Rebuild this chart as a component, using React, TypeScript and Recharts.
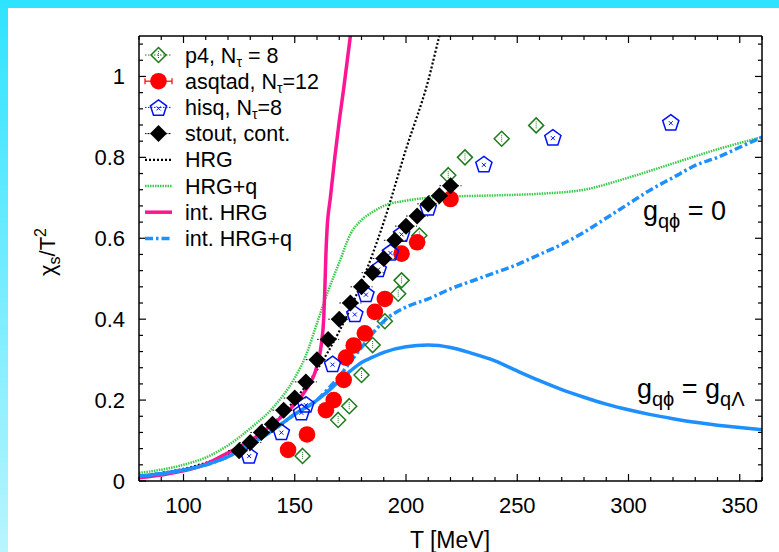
import React from "react";
import { ComposedChart, Line, Scatter, XAxis, YAxis, ReferenceDot } from "recharts";

const FONT = '"Liberation Sans", Arial, Helvetica, sans-serif';

// axis ticks
const X_TICKS = [80, 90, 100, 110, 120, 130, 140, 150, 160, 170, 180, 190, 200, 210, 220, 230, 240, 250, 260, 270, 280, 290, 300, 310, 320, 330, 340, 350, 360];
const X_MAJOR = [100, 150, 200, 250, 300, 350];
const Y_TICKS = [0, 0.04, 0.08, 0.12, 0.16, 0.2, 0.24, 0.28, 0.32, 0.36, 0.4, 0.44, 0.48, 0.52, 0.56, 0.6, 0.64, 0.68, 0.72, 0.76, 0.8, 0.84, 0.88, 0.92, 0.96, 1, 1.04, 1.08];
const Y_MAJOR = [0, 0.2, 0.4, 0.6, 0.8, 1];
const Y_LABELS = ["0", "0.2", "0.4", "0.6", "0.8", "1"];

// lattice data
const p4T = [153.5, 169.5, 174.5, 180, 185, 190.5, 196.5, 198, 206, 219, 226.5, 243, 258.5];
const p4V = [0.062, 0.151, 0.185, 0.262, 0.336, 0.395, 0.463, 0.496, 0.607, 0.756, 0.8, 0.846, 0.879];
const asqtadT = [147, 155.5, 164, 167.5, 172, 173, 176.5, 181.5, 186, 190.5, 198, 205, 220];
const asqtadV = [0.077, 0.115, 0.175, 0.2, 0.25, 0.305, 0.335, 0.365, 0.418, 0.45, 0.562, 0.59, 0.697];
const hisqT = [129.5, 144, 153, 155, 167, 177, 182, 187.5, 193, 198, 210, 235, 266, 319];
const hisqV = [0.064, 0.122, 0.171, 0.19, 0.29, 0.414, 0.463, 0.525, 0.566, 0.612, 0.677, 0.784, 0.85, 0.887];
const stoutT = [125, 130, 135, 140, 145, 150, 155, 160, 165, 170, 175, 180, 185, 190, 195, 200, 205, 210, 215, 220];
const stoutV = [0.075, 0.095, 0.12, 0.14, 0.175, 0.205, 0.245, 0.3, 0.35, 0.4, 0.44, 0.48, 0.515, 0.55, 0.595, 0.63, 0.655, 0.685, 0.705, 0.73];

// model curves
const hrgT = [80, 90, 100, 110, 120, 130, 140, 150, 160, 170, 180, 190, 200, 210, 215, 218];
const hrgV = [0.012, 0.02, 0.03, 0.045, 0.065, 0.095, 0.14, 0.2, 0.275, 0.37, 0.49, 0.64, 0.82, 0.99, 1.1, 1.16];
const hrgqT = [80, 90, 100, 110, 120, 130, 140, 150, 155, 160, 165, 170, 175, 180, 185, 190, 200, 210, 220, 240, 260, 280, 300, 320, 340, 360];
const hrgqV = [0.02, 0.028, 0.04, 0.058, 0.088, 0.13, 0.18, 0.255, 0.31, 0.39, 0.47, 0.54, 0.61, 0.645, 0.665, 0.68, 0.693, 0.7, 0.703, 0.706, 0.71, 0.72, 0.75, 0.785, 0.82, 0.85];
const intHrgT = [80, 90, 100, 110, 120, 130, 140, 150, 155, 160, 162, 163, 163.5, 164, 164.5, 166, 168, 170, 172, 175, 177];
const intHrgV = [0.008, 0.015, 0.025, 0.042, 0.07, 0.1, 0.14, 0.19, 0.225, 0.285, 0.34, 0.4, 0.47, 0.56, 0.62, 0.7, 0.8, 0.89, 0.97, 1.1, 1.18];
const intHrgqT = [80, 90, 100, 110, 120, 130, 140, 150, 160, 165, 170, 175, 180, 185, 190, 200, 210, 220, 230, 240, 250, 260, 270, 280, 290, 300, 310, 320, 330, 340, 350, 360];
const intHrgqLambda = [0.012, 0.018, 0.027, 0.04, 0.06, 0.09, 0.125, 0.165, 0.2, 0.222, 0.248, 0.272, 0.293, 0.306, 0.318, 0.332, 0.336, 0.33, 0.315, 0.297, 0.272, 0.248, 0.226, 0.207, 0.19, 0.176, 0.164, 0.154, 0.145, 0.138, 0.132, 0.127];
const intHrgqZero = [0.012, 0.018, 0.027, 0.04, 0.06, 0.09, 0.125, 0.165, 0.2, 0.228, 0.258, 0.295, 0.33, 0.365, 0.395, 0.43, 0.45, 0.475, 0.495, 0.515, 0.535, 0.56, 0.585, 0.615, 0.65, 0.685, 0.72, 0.75, 0.78, 0.8, 0.825, 0.85];

// annotation anchors (data coords)
const ANNOT_ZERO = { T: 306.5, v: 0.644 };
const ANNOT_LAMBDA = { T: 303.8, v: 0.205 };

const toPts = (t: number[], v: number[]) => t.map((T, i) => ({ T, v: v[i] }));

const GREEN_DARK = "#1d7b1d";
const PINK = "#ff1493";
const BLUE = "#1e8fff";
const GREEN = "#38c84a";

function OpenDiamond({ cx, cy }: { cx: number; cy: number }) {
    const r = 7.5;
    return (
        <g>
            <line x1={cx} x2={cx} y1={cy - 4} y2={cy + 4} stroke={GREEN_DARK} strokeWidth={1} strokeDasharray="1 1" />
            <polygon points={`${cx},${cy - r} ${cx + r},${cy} ${cx},${cy + r} ${cx - r},${cy}`} fill="none" stroke={GREEN_DARK} strokeWidth={1.5} />
        </g>
    );
}

function FilledDiamond({ cx, cy }: { cx: number; cy: number }) {
    const r = 8.5;
    return (
        <g>
            <line x1={cx - 11} x2={cx + 11} y1={cy} y2={cy} stroke="#000" strokeWidth={1} strokeDasharray="1.5 1.5" />
            <polygon points={`${cx},${cy - r} ${cx + r},${cy} ${cx},${cy + r} ${cx - r},${cy}`} fill="#000" />
        </g>
    );
}

function Pentagon({ cx, cy }: { cx: number; cy: number }) {
    const r = 8.5;
    const pts = [0, 1, 2, 3, 4]
        .map((k) => {
            const a = -Math.PI / 2 + (k * 2 * Math.PI) / 5;
            return `${cx + r * Math.cos(a)},${cy + 1 + r * Math.sin(a)}`;
        })
        .join(" ");
    return (
        <g>
            <polygon points={pts} fill="#fff" fillOpacity={0} stroke="#0010ff" strokeWidth={1.5} />
            <line x1={cx - 2} x2={cx + 2} y1={cy - 1} y2={cy + 3} stroke="#0010ff" strokeWidth={1} />
            <line x1={cx - 2} x2={cx + 2} y1={cy + 3} y2={cy - 1} stroke="#0010ff" strokeWidth={1} />
        </g>
    );
}

function RedCircle({ cx, cy }: { cx: number; cy: number }) {
    return <circle cx={cx} cy={cy} r={8.3} fill="#ff0000" />;
}

function BottomTick(props: any) {
    const { x, y, payload } = props;
    const major = X_MAJOR.includes(payload.value);
    return (
        <g>
            <line x1={x} x2={x} y1={y} y2={y - (major ? 7 : 4)} stroke="#000" strokeWidth={1.2} />
            {major && (
                <text x={x} y={y + 32} textAnchor="middle" fontSize={22} fontFamily={FONT} fill="#000">
                    {payload.value}
                </text>
            )}
        </g>
    );
}

function TopTick(props: any) {
    const { x, y, payload } = props;
    const major = X_MAJOR.includes(payload.value);
    return <line x1={x} x2={x} y1={y} y2={y + (major ? 7 : 4)} stroke="#000" strokeWidth={1.2} />;
}

function LeftTick(props: any) {
    const { x, y, payload } = props;
    const idx = Y_MAJOR.findIndex((m) => Math.abs(m - payload.value) < 1e-6);
    const major = idx >= 0;
    return (
        <g>
            <line x1={x} x2={x + (major ? 7 : 4)} y1={y} y2={y} stroke="#000" strokeWidth={1.2} />
            {major && (
                <text x={x - 14} y={y + 8} textAnchor="end" fontSize={22} fontFamily={FONT} fill="#000">
                    {Y_LABELS[idx]}
                </text>
            )}
        </g>
    );
}

function RightTick(props: any) {
    const { x, y, payload } = props;
    const major = Y_MAJOR.some((m) => Math.abs(m - payload.value) < 1e-6);
    return <line x1={x} x2={x - (major ? 7 : 4)} y1={y} y2={y} stroke="#000" strokeWidth={1.2} />;
}

function GLabel({ cx, cy, second }: { cx: number; cy: number; second: boolean }) {
    return (
        <text x={cx} y={cy} fontSize={27} fontFamily={FONT} fill="#000">
            g
            <tspan dy={8} fontSize={20}>qϕ</tspan>
            {second ? (
                <>
                    <tspan dy={-8}> = g</tspan>
                    <tspan dy={8} fontSize={20}>qΛ</tspan>
                </>
            ) : (
                <tspan dy={-8}> = 0</tspan>
            )}
        </text>
    );
}

const LEGEND = [
    { kind: "p4", label: ["p4, N", "τ", " = 8"] },
    { kind: "asqtad", label: ["asqtad, N", "τ", "=12"] },
    { kind: "hisq", label: ["hisq, N", "τ", "=8"] },
    { kind: "stout", label: ["stout, cont."] },
    { kind: "hrg", label: ["HRG"] },
    { kind: "hrgq", label: ["HRG+q"] },
    { kind: "inthrg", label: ["int. HRG"] },
    { kind: "inthrgq", label: ["int. HRG+q"] },
];

function LegendSample({ kind, y }: { kind: string; y: number }) {
    const x1 = 145;
    const x2 = 172;
    const cx = (x1 + x2) / 2;
    switch (kind) {
        case "p4":
            return (
                <g>
                    <line x1={x1} x2={x2} y1={y} y2={y} stroke={GREEN_DARK} strokeWidth={1} strokeDasharray="1.5 1.5" />
                    <OpenDiamond cx={cx} cy={y} />
                </g>
            );
        case "asqtad":
            return (
                <g>
                    <line x1={x1} x2={x2} y1={y} y2={y} stroke="#ff0000" strokeWidth={1.2} />
                    <line x1={x1} x2={x1} y1={y - 3} y2={y + 3} stroke="#ff0000" strokeWidth={1.2} />
                    <line x1={x2} x2={x2} y1={y - 3} y2={y + 3} stroke="#ff0000" strokeWidth={1.2} />
                    <RedCircle cx={cx} cy={y} />
                </g>
            );
        case "hisq":
            return (
                <g>
                    <line x1={x1} x2={x2} y1={y} y2={y} stroke="#0010ff" strokeWidth={1} strokeDasharray="1.5 1.5" />
                    <Pentagon cx={cx} cy={y} />
                </g>
            );
        case "stout":
            return (
                <g>
                    <line x1={x1} x2={x2} y1={y} y2={y} stroke="#000" strokeWidth={1} strokeDasharray="1.5 1.5" />
                    <FilledDiamond cx={cx} cy={y} />
                </g>
            );
        case "hrg":
            return <line x1={x1} x2={x2} y1={y} y2={y} stroke="#000" strokeWidth={2.2} strokeDasharray="2 2" />;
        case "hrgq":
            return <line x1={x1} x2={x2} y1={y} y2={y} stroke={GREEN} strokeWidth={2.5} strokeDasharray="1.5 1" />;
        case "inthrg":
            return <line x1={x1} x2={x2} y1={y} y2={y} stroke={PINK} strokeWidth={3.5} />;
        default:
            return <line x1={x1} x2={x2} y1={y} y2={y} stroke={BLUE} strokeWidth={3.5} strokeDasharray="8 3 2.5 3" />;
    }
}

export default function App() {
    return (
        <div style={{ position: "absolute", left: 0, top: 0, width: 779, height: 552, background: "#fff", overflow: "hidden", fontFamily: FONT }}>
            <div style={{ position: "absolute", left: 0, top: 0, width: 779, height: 8, background: "#2ee3ff" }} />
            <div style={{ position: "absolute", left: 0, top: 0, width: 8, height: 552, background: "linear-gradient(#2ee3ff, #b8f5ff)" }} />

            <div style={{ position: "absolute", left: 0, top: 0 }}>
                <ComposedChart width={779} height={552} margin={{ top: 35, right: 16, bottom: 41, left: 79 }}>
                    <XAxis dataKey="T" type="number" domain={[80, 360]} ticks={X_TICKS} interval={0} allowDataOverflow
                        height={30} tickSize={0} tickMargin={0} tick={<BottomTick />} tickLine={false}
                        axisLine={{ stroke: "#000", strokeWidth: 1.5 }} />
                    <XAxis xAxisId="top" orientation="top" dataKey="T" type="number" domain={[80, 360]} ticks={X_TICKS} interval={0} allowDataOverflow
                        height={1} tickSize={0} tickMargin={0} tick={<TopTick />} tickLine={false}
                        axisLine={{ stroke: "#000", strokeWidth: 1.5 }} />
                    <YAxis type="number" domain={[0, 1.1]} ticks={Y_TICKS} interval={0} allowDataOverflow
                        width={60} tickSize={0} tickMargin={0} tick={<LeftTick />} tickLine={false}
                        axisLine={{ stroke: "#000", strokeWidth: 1.5 }} />
                    <YAxis yAxisId="right" orientation="right" type="number" domain={[0, 1.1]} ticks={Y_TICKS} interval={0} allowDataOverflow
                        width={1} tickSize={0} tickMargin={0} tick={<RightTick />} tickLine={false}
                        axisLine={{ stroke: "#000", strokeWidth: 1.5 }} />

                    <Scatter data={toPts(p4T, p4V)} dataKey="v" isAnimationActive={false} shape={(p: any) => <OpenDiamond cx={p.cx} cy={p.cy} />} />
                    <Scatter data={toPts(asqtadT, asqtadV)} dataKey="v" isAnimationActive={false} shape={(p: any) => <RedCircle cx={p.cx} cy={p.cy} />} />
                    <Scatter data={toPts(hisqT, hisqV)} dataKey="v" isAnimationActive={false} shape={(p: any) => <Pentagon cx={p.cx} cy={p.cy} />} />
                    <Scatter data={toPts(stoutT, stoutV)} dataKey="v" isAnimationActive={false} shape={(p: any) => <FilledDiamond cx={p.cx} cy={p.cy} />} />

                    <Line data={toPts(hrgT, hrgV)} dataKey="v" type="monotone" dot={false} activeDot={false} isAnimationActive={false}
                        stroke="#000" strokeWidth={2.2} strokeDasharray="2 2" />
                    <Line data={toPts(hrgqT, hrgqV)} dataKey="v" type="monotone" dot={false} activeDot={false} isAnimationActive={false}
                        stroke={GREEN} strokeWidth={2.5} strokeDasharray="1.5 1" />
                    <Line data={toPts(intHrgT, intHrgV)} dataKey="v" type="monotone" dot={false} activeDot={false} isAnimationActive={false}
                        stroke={PINK} strokeWidth={3.5} />
                    <Line data={toPts(intHrgqT, intHrgqZero)} dataKey="v" type="monotone" dot={false} activeDot={false} isAnimationActive={false}
                        stroke={BLUE} strokeWidth={3.5} strokeDasharray="8 3 2.5 3" />
                    <Line data={toPts(intHrgqT, intHrgqLambda)} dataKey="v" type="monotone" dot={false} activeDot={false} isAnimationActive={false}
                        stroke={BLUE} strokeWidth={3.5} />

                    <ReferenceDot x={ANNOT_ZERO.T} y={ANNOT_ZERO.v} r={1} shape={(p: any) => <GLabel cx={p.cx} cy={p.cy} second={false} />} />
                    <ReferenceDot x={ANNOT_LAMBDA.T} y={ANNOT_LAMBDA.v} r={1} shape={(p: any) => <GLabel cx={p.cx} cy={p.cy} second={true} />} />
                </ComposedChart>
            </div>

            {/* legend and axis titles */}
            <svg width={779} height={552} style={{ position: "absolute", left: 0, top: 0, pointerEvents: "none" }}>
                {LEGEND.map((item, i) => {
                    const y = 55 + i * 26.2;
                    return (
                        <g key={item.kind}>
                            <LegendSample kind={item.kind} y={y} />
                            <text x={185} y={y + 7.5} fontSize={21.5} fontFamily={FONT} fill="#000">
                                {item.label[0]}
                                {item.label.length > 1 && (
                                    <>
                                        <tspan dy={4} fontSize={14}>{item.label[1]}</tspan>
                                        <tspan dy={-4}>{item.label[2]}</tspan>
                                    </>
                                )}
                            </text>
                        </g>
                    );
                })}
                <text x={450} y={548} textAnchor="middle" fontSize={23} fontFamily={FONT} fill="#000">T [MeV]</text>
                <text transform="translate(55,252) rotate(-90)" textAnchor="middle" fontSize={22} fontFamily={FONT} fill="#000">
                    χ<tspan dy={5} fontSize={16}>s</tspan><tspan dy={-5}>/T</tspan><tspan dy={-9} fontSize={16}>2</tspan>
                </text>
            </svg>
        </div>
    );
}
